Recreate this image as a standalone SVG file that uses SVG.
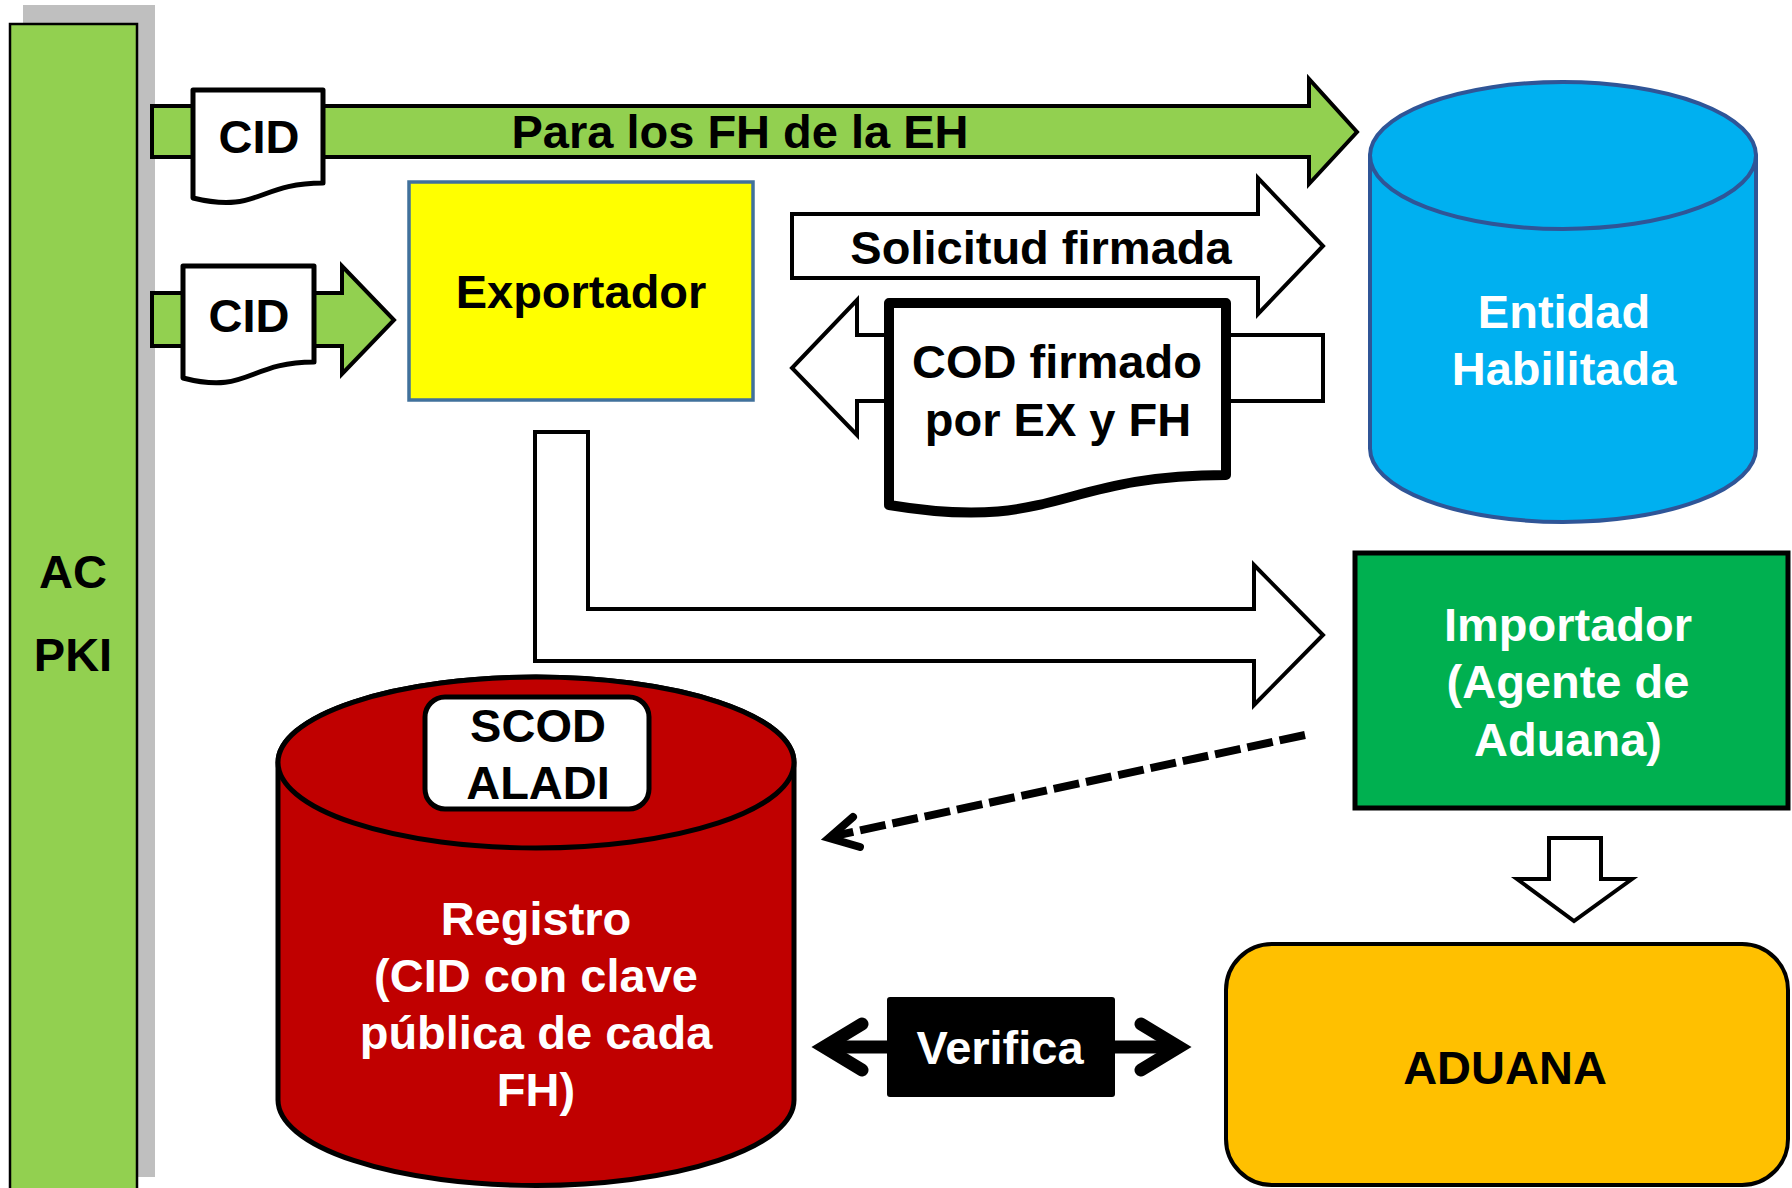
<svg xmlns="http://www.w3.org/2000/svg" width="1792" height="1188" viewBox="0 0 1792 1188">
<style>
text{font-family:"Liberation Sans",Arial,sans-serif;font-weight:bold;font-size:47px;text-anchor:middle}
.w{fill:#fff}
.k{fill:#000}
.blk{stroke:#000;stroke-width:4;stroke-linejoin:miter}
.doc{fill:#fff;stroke:#000;stroke-width:5;stroke-linejoin:round}
</style>
<rect width="1792" height="1188" fill="#fff"/>
<g id="acpki">
<rect x="23" y="5" width="132" height="1172" fill="#bfbfbf"/>
<rect x="10" y="24" width="127" height="1175" fill="#92d050" stroke="#000" stroke-width="2.5"/>
<text x="73" y="588" font-size="47">AC</text>
<text x="73" y="671" font-size="47">PKI</text>
</g>
<g id="connectors">
<polygon class="blk" fill="#92d050" points="152,106 1309,106 1309,79 1357,132 1309,184 1309,157 152,157"/>
<text x="740" y="148" class="k">Para los FH de la EH</text>
<polygon class="blk" fill="#92d050" points="152,293 342,293 342,266 394,320 342,374 342,346 152,346"/>
<polygon class="blk" fill="#fff" points="792,214 1258,214 1258,178 1323,246 1258,314 1258,278 792,278"/>
<text x="1041" y="264">Solicitud firmada</text>
<polygon class="blk" fill="#fff" points="1323,335 857,335 857,300 792,368 857,435 857,401 1323,401"/>
<polygon class="blk" fill="#fff" points="535,432 588,432 588,609 1254,609 1254,565 1323,635 1254,705 1254,661 535,661"/>
<line x1="1305" y1="735" x2="834" y2="836" stroke="#000" stroke-width="8" stroke-dasharray="26 7"/>
<polyline points="853,817 829,838 860,847" fill="none" stroke="#000" stroke-width="8" stroke-linecap="round" stroke-linejoin="miter"/>
<polygon class="blk" fill="#fff" points="1549,838 1601,838 1601,879 1632,879 1574,921 1517,879 1549,879"/>
<line x1="826" y1="1047" x2="1177" y2="1047" stroke="#000" stroke-width="13"/>
<polyline points="862,1024 824,1047 862,1070" fill="none" stroke="#000" stroke-width="13" stroke-linecap="round" stroke-linejoin="miter"/>
<polyline points="1141,1024 1179,1047 1141,1070" fill="none" stroke="#000" stroke-width="13" stroke-linecap="round" stroke-linejoin="miter"/>
</g>
<g id="cid1">
<path class="doc" d="M193,90 H323 V183 C258,183 258,214 193,198 Z"/>
<text x="259" y="153">CID</text>
</g>
<g id="cid2">
<path class="doc" d="M183,266 H314 V362 C248,362 248,395 183,378 Z"/>
<text x="249" y="332">CID</text>
</g>
<g id="exportador">
<rect x="409" y="182" width="344" height="218" fill="#ffff00" stroke="#41719c" stroke-width="3.5"/>
<text x="581" y="308">Exportador</text>
</g>
<g id="cod">
<path d="M889,303 H1226 V475 C1057,475 1057,533 889,505 Z" fill="#fff" stroke="#000" stroke-width="10" stroke-linejoin="round"/>
<text x="1057" y="378">COD firmado</text>
<text x="1058" y="436">por EX y FH</text>
</g>
<g id="entidad">
<path d="M1370,155.5 A193.5,73.5 0 0 1 1756,155.5 V448.5 A193,73.5 0 0 1 1370,448.5 Z" fill="#00b0f0" stroke="#2f5597" stroke-width="4"/>
<ellipse cx="1563" cy="155.5" rx="193" ry="73.5" fill="#00b0f0" stroke="#2f5597" stroke-width="4"/>
<text x="1564" y="328" class="w">Entidad</text>
<text x="1564" y="385" class="w">Habilitada</text>
</g>
<g id="importador">
<rect x="1355" y="553" width="433" height="255" fill="#00b050" stroke="#000" stroke-width="5"/>
<text x="1568" y="641" class="w">Importador</text>
<text x="1568" y="698" class="w">(Agente de</text>
<text x="1568" y="756" class="w">Aduana)</text>
</g>
<g id="registro">
<path d="M278,762.5 A258,85.5 0 0 1 794,762.5 V1100 A258,85.5 0 0 1 278,1100 Z" fill="#c00000" stroke="#000" stroke-width="5"/>
<ellipse cx="536" cy="762.5" rx="258" ry="85.5" fill="#c00000" stroke="#000" stroke-width="5"/>
<rect x="425" y="697" width="224" height="112" rx="20" fill="#fff" stroke="#000" stroke-width="5"/>
<text x="538" y="742">SCOD</text>
<text x="538" y="799">ALADI</text>
<text x="536" y="935" class="w">Registro</text>
<text x="536" y="992" class="w">(CID con clave</text>
<text x="536" y="1049" class="w">pública de cada</text>
<text x="536" y="1106" class="w">FH)</text>
</g>
<g id="verifica">
<rect x="887" y="997" width="228" height="100" rx="3" fill="#000"/>
<text x="1000" y="1064" class="w">Verifica</text>
</g>
<g id="aduana">
<rect x="1226" y="944" width="562" height="241" rx="46" fill="#ffc000" stroke="#000" stroke-width="4"/>
<text x="1505" y="1084">ADUANA</text>
</g>
</svg>
